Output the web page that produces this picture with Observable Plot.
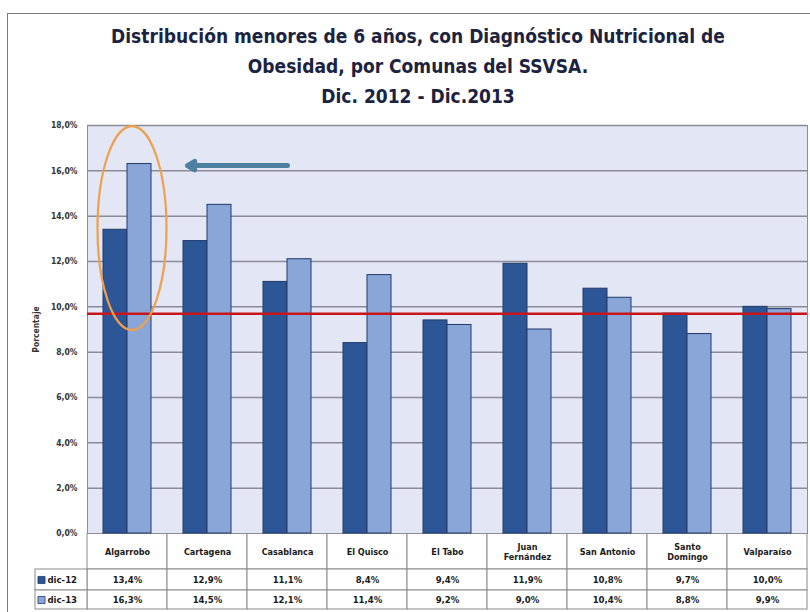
<!DOCTYPE html>
<html>
<head>
<meta charset="utf-8">
<script src="https://cdn.jsdelivr.net/npm/d3@7"></script>
<script src="https://cdn.jsdelivr.net/npm/@observablehq/plot@0.6"></script>
<style>
  body { margin: 0; background: #fff; }
  #wrap { position: relative; width: 810px; height: 612px; overflow: hidden;
          font-family: "Liberation Sans Narrow", "DejaVu Sans Condensed", "Open Sans", sans-serif; }
  #frame { position: absolute; left: 7px; top: 13px; width: 900px; height: 700px;
           border-left: 1.5px solid #7a7a7a; border-top: 1.5px solid #7a7a7a; pointer-events: none; }
  #title { height: 112px; box-sizing: border-box; padding-top: 21px; padding-left: 26px;
           text-align: center; font-weight: bold; font-size: 19px; line-height: 30px; color: #1c2340; }
  #chart svg, #table svg { display: block; }
  #chart { position: relative; z-index: 2; }
  #chart svg { overflow: visible; }
</style>
</head>
<body>
<div id="wrap">
  <div id="frame"></div>
  <div id="title">Distribución menores de 6 años, con Diagnóstico Nutricional de<br>Obesidad, por Comunas del SSVSA.<br>Dic. 2012 - Dic.2013</div>
  <div id="chart"></div>
  <div id="table"></div>
</div>
<script>
// ---- data ----
const comunas = ["Algarrobo", "Cartagena", "Casablanca", "El Quisco", "El Tabo", "Juan Fernández", "San Antonio", "Santo Domingo", "Valparaíso"];
const comunaLabels = ["Algarrobo", "Cartagena", "Casablanca", "El Quisco", "El Tabo", "Juan\nFernández", "San Antonio", "Santo\nDomingo", "Valparaíso"];
const series = ["dic-12", "dic-13"];
const dic12 = [13.4, 12.9, 11.1, 8.4, 9.4, 11.9, 10.8, 9.7, 10.0];
const dic13 = [16.3, 14.5, 12.1, 11.4, 9.2, 9.0, 10.4, 8.8, 9.9];
const yTicks = [0, 2, 4, 6, 8, 10, 12, 14, 16, 18];
const referenceLine = [9.7];
const arrowFrom = ["Casablanca"];
const arrowTo = ["Cartagena"];
const arrowLevel = [16.23];
const ellipseTop = [17.95];
const ellipseBottom = [8.95];

// ---- helpers ----
const fmt = v => v.toFixed(1).replace(".", ",") + "%";
const rows12 = comunas.map((c, i) => ({comuna: c, value: dic12[i]}));
const rows13 = comunas.map((c, i) => ({comuna: c, value: dic13[i]}));
const darkFill = "#2d5697", lightFill = "#8aa6d9", outline = "#1f3a68";
const fontFam = '"Liberation Sans Narrow", "DejaVu Sans Condensed", "Open Sans", sans-serif';

const chart = Plot.plot({
  width: 810, height: 421,
  marginTop: 13, marginBottom: 0, marginLeft: 87, marginRight: 3,
  style: {fontFamily: fontFam, fontSize: "8.5px", fontWeight: "bold", color: "#333", background: "transparent", overflow: "visible"},
  x: {domain: comunas, padding: 0, axis: null},
  y: {domain: [0, 18], ticks: yTicks, tickFormat: fmt, tickSize: 0, tickPadding: 10,
      label: "Porcentaje", labelAnchor: "center", labelOffset: 55, labelArrow: false},
  marks: [
    Plot.frame({fill: "#e2e6f5", stroke: null}),
    Plot.ruleY(yTicks.filter(t => t > 0), {stroke: "#8c8c98", strokeWidth: 1.5}),
    Plot.frame({stroke: "#8c8c98", fill: null}),
    Plot.barY(rows12, {x: "comuna", y: "value", fill: darkFill, stroke: outline, strokeWidth: 1, insetLeft: 16, insetRight: 40}),
    Plot.barY(rows13, {x: "comuna", y: "value", fill: lightFill, stroke: outline, strokeWidth: 1, insetLeft: 40, insetRight: 16}),
    Plot.ruleY(referenceLine, {stroke: "#c8161d", strokeWidth: 2.5}),
    Plot.arrow([0], {x1: () => arrowFrom[0], x2: () => arrowTo[0], y1: () => arrowLevel[0], y2: () => arrowLevel[0],
      stroke: "#4d7fa0", strokeWidth: 5, headLength: 2.5, insetEnd: -20})
  ]
});
document.getElementById("chart").appendChild(chart);

// orange ellipse around Algarrobo, positioned with the plot's scales
{
  const xs = chart.scale("x"), ys = chart.scale("y");
  const cx = xs.apply(comunas[0]) + xs.bandwidth / 2 + 5;
  const yT = ys.apply(ellipseTop[0]), yB = ys.apply(ellipseBottom[0]);
  d3.select(chart).append("ellipse")
    .attr("cx", cx).attr("cy", (yT + yB) / 2)
    .attr("rx", 34.5).attr("ry", (yB - yT) / 2)
    .attr("fill", "none").attr("stroke", "#f0a04b").attr("stroke-width", 2.2);
}

// ---- data table below the chart ----
const header = comunas.map((c, i) => ({i, label: comunaLabels[i]}));
const vals = [];
comunas.forEach((c, i) => {
  vals.push({i, row: 0, text: fmt(dic12[i])});
  vals.push({i, row: 1, text: fmt(dic13[i])});
});
const rowY1 = [36, 57], rowY2 = [57, 76];
const legendRows = series.map((s, r) => ({s, r}));

const table = Plot.plot({
  width: 810, height: 79,
  marginTop: 0, marginBottom: 0, marginLeft: 35, marginRight: 3,
  style: {fontFamily: fontFam, fontWeight: "bold", color: "#222", background: "transparent"},
  x: {domain: [-0.65, 9], axis: null},
  y: {domain: [0, 79], range: [0, 79], axis: null},
  marks: [
    Plot.rect(header, {x1: d => d.i, x2: d => d.i + 1, y1: 0, y2: 36, fill: "#fff", stroke: "#8a8a8a"}),
    Plot.rect(vals, {x1: d => d.i, x2: d => d.i + 1, y1: d => rowY1[d.row], y2: d => rowY2[d.row], fill: "#fff", stroke: "#8a8a8a"}),
    Plot.rect(legendRows, {x1: -0.65, x2: 0, y1: d => rowY1[d.r], y2: d => rowY2[d.r], fill: "#fff", stroke: "#8a8a8a"}),
    Plot.text(header, {x: d => d.i + 0.5, y: 18, text: "label", fontSize: 9, lineHeight: 1.15, fill: "#1a1a1a"}),
    Plot.text(vals, {x: d => d.i + 0.5, y: d => (rowY1[d.row] + rowY2[d.row]) / 2, text: "text", fontSize: 9.5, fill: "#1a1a1a"}),
    Plot.dot(legendRows, {x: -0.65, dx: 6, y: d => (rowY1[d.r] + rowY2[d.r]) / 2, symbol: "square", r: 4,
      fill: d => d.r === 0 ? darkFill : lightFill, stroke: outline, strokeWidth: 0.8}),
    Plot.text(legendRows, {x: -0.65, dx: 12, y: d => (rowY1[d.r] + rowY2[d.r]) / 2, text: "s", textAnchor: "start", fontSize: 9.5, fill: "#1a1a1a"})
  ]
});
document.getElementById("table").appendChild(table);
</script>
</body>
</html>
